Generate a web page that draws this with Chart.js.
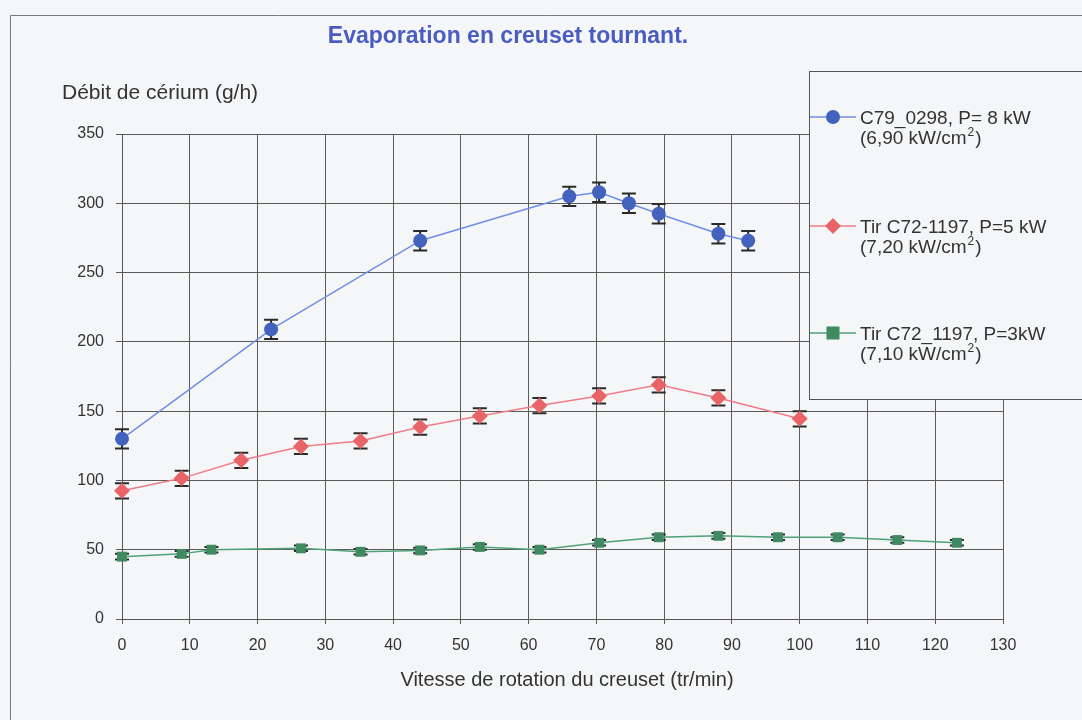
<!DOCTYPE html>
<html><head><meta charset="utf-8">
<script src="https://cdn.jsdelivr.net/npm/chart.js@4.4.1/dist/chart.umd.min.js"></script>
<style>html,body{margin:0;padding:0;background:#f5f6f8;} canvas{display:block}</style>
</head><body>
<canvas id="c" width="1082" height="720"></canvas>
<script>
// ---- data ----
const xTicksMin = 0, xTicksMax = 130, xStep = 10;
const yTicksMin = 0, yTicksMax = 350, yStep = 50;

const blueX = [0, 22, 44, 66, 70.4, 74.8, 79.2, 88, 92.4];
const blueY = [130, 209, 273, 305, 308, 300, 292.5, 278, 273];
const blueErr = [7, 7, 7, 7, 7, 7, 7, 7, 7];

const redX = [0, 8.8, 17.6, 26.4, 35.2, 44, 52.8, 61.6, 70.4, 79.2, 88, 100];
const redY = [92.5, 101.5, 114.5, 124.5, 128.5, 138.5, 146.5, 154, 161, 169, 159.5, 144.5];
const redErr = [5.5, 5.5, 5.5, 5.5, 5.5, 5.5, 5.5, 5.5, 5.5, 5.5, 5.5, 5.5];

const greenX = [0, 8.8, 13.2, 26.4, 35.2, 44, 52.8, 61.6, 70.4, 79.2, 88, 96.8, 105.6, 114.4, 123.2];
const greenY = [45, 47, 50, 51, 48.5, 49.5, 52, 50, 55, 59, 60, 59, 59, 57, 55];
const greenErr = [2, 2, 2, 2, 2, 2, 2, 2, 2, 2, 2, 2, 2, 2, 2];

const seriesLabels = ["C79_0298, P= 8 kW", "Tir C72-1197, P=5 kW", "Tir C72_1197, P=3kW"];
const seriesSub = ["(6,90 kW/cm", "(7,20 kW/cm", "(7,10 kW/cm"];

const titleText = "Evaporation en creuset tournant.";
const yTitle = "Débit de cérium (g/h)";
const xTitle = "Vitesse de rotation du creuset (tr/min)";

const FONT = "'Liberation Sans', Arial, sans-serif";

function pts(xs, ys){ return xs.map((x,i)=>({x:x, y:ys[i]})); }

const errorBars = {
  id: 'errorBars',
  beforeDatasetsDraw(chart){
    const ctx = chart.ctx, xs = chart.scales.x, ys = chart.scales.y;
    ctx.save();
    ctx.strokeStyle = '#2a2a2a';
    ctx.lineWidth = 2;
    chart.data.datasets.forEach(ds => {
      ds.data.forEach((p, j) => {
        const e = ds.errors[j];
        const px = xs.getPixelForValue(p.x);
        const t = ys.getPixelForValue(p.y + e), b = ys.getPixelForValue(p.y - e);
        ctx.beginPath();
        ctx.moveTo(px, t); ctx.lineTo(px, b);
        ctx.moveTo(px - 7, t); ctx.lineTo(px + 7, t);
        ctx.moveTo(px - 7, b); ctx.lineTo(px + 7, b);
        ctx.stroke();
      });
    });
    ctx.restore();
  }
};

function drawMarker(ctx, style, x, y, color){
  ctx.fillStyle = color;
  ctx.beginPath();
  if (style === 'circle') { ctx.arc(x, y, 7, 0, Math.PI*2); }
  else if (style === 'rectRot') { ctx.moveTo(x, y-8); ctx.lineTo(x+8, y); ctx.lineTo(x, y+8); ctx.lineTo(x-8, y); ctx.closePath(); }
  else { ctx.rect(x-6.5, y-6.5, 13, 13); }
  ctx.fill();
}

const decor = {
  id: 'decor',
  afterDraw(chart){
    const ctx = chart.ctx;
    ctx.save();
    // outer frame
    ctx.strokeStyle = '#7a7a7a'; ctx.lineWidth = 1;
    ctx.beginPath(); ctx.moveTo(10.5, 720); ctx.lineTo(10.5, 15.5); ctx.lineTo(1082, 15.5); ctx.stroke();
    // title
    ctx.fillStyle = '#4a5cc0';
    ctx.font = 'bold 23px ' + FONT;
    ctx.textAlign = 'center'; ctx.textBaseline = 'alphabetic';
    ctx.fillText(titleText, 508, 43);
    // y title
    ctx.fillStyle = '#333';
    ctx.font = '21px ' + FONT;
    ctx.textAlign = 'left';
    ctx.fillText(yTitle, 62, 99);
    // x title
    ctx.textAlign = 'center';
    ctx.font = '20px ' + FONT;
    ctx.fillText(xTitle, 567, 686);
    // legend box
    ctx.fillStyle = '#f5f6f8';
    ctx.fillRect(809, 71, 300, 329);
    ctx.strokeStyle = '#555';
    ctx.strokeRect(809.5, 71.5, 300, 328);
    const ys = [117, 226, 333];
    chart.data.datasets.forEach((ds, i) => {
      const y = ys[i];
      ctx.strokeStyle = ds.borderColor; ctx.lineWidth = 1.5;
      ctx.beginPath(); ctx.moveTo(810, y); ctx.lineTo(856, y); ctx.stroke();
      drawMarker(ctx, ds.pointStyle, 833, y, ds.pointBackgroundColor);
      ctx.fillStyle = '#333';
      ctx.font = '19px ' + FONT;
      ctx.textAlign = 'left'; ctx.textBaseline = 'alphabetic';
      ctx.fillText(seriesLabels[i], 860, y + 7);
      const sub = seriesSub[i];
      ctx.fillText(sub, 860, y + 27);
      let w = ctx.measureText(sub).width;
      ctx.font = '12px ' + FONT;
      ctx.fillText('2', 860 + w + 1, y + 19);
      const w2 = ctx.measureText('2').width;
      ctx.font = '19px ' + FONT;
      ctx.fillText(')', 860 + w + w2 + 2, y + 27);
    });
    ctx.restore();
  }
};

const bg = {
  id: 'bg',
  beforeDraw(chart){
    const ctx = chart.ctx;
    ctx.save(); ctx.fillStyle = '#f5f6f8'; ctx.fillRect(0, 0, chart.width, chart.height); ctx.restore();
  }
};

new Chart(document.getElementById('c'), {
  type: 'line',
  data: {
    datasets: [
      { label: seriesLabels[0], data: pts(blueX, blueY), errors: blueErr, clip: false,
        borderColor: '#6f8fe6', borderWidth: 1.5, pointStyle: 'circle', pointRadius: 7,
        pointBackgroundColor: '#4262bd', pointBorderColor: '#4262bd', pointBorderWidth: 0, tension: 0 },
      { label: seriesLabels[1], data: pts(redX, redY), errors: redErr, clip: false,
        borderColor: '#f07c8a', borderWidth: 1.5, pointStyle: 'rectRot', pointRadius: 8,
        pointBackgroundColor: '#e86466', pointBorderColor: '#e86466', pointBorderWidth: 0, tension: 0 },
      { label: seriesLabels[2], data: pts(greenX, greenY), errors: greenErr, clip: false,
        borderColor: '#4fa276', borderWidth: 1.5, pointStyle: 'rect', pointRadius: 7,
        pointBackgroundColor: '#3f8a60', pointBorderColor: '#3f8a60', pointBorderWidth: 0, tension: 0 }
    ]
  },
  options: {
    responsive: false, animation: false, devicePixelRatio: 1,
    layout: { padding: { left: 0, top: 134, right: 79, bottom: 0 } },
    plugins: { legend: { display: false }, title: { display: false }, tooltip: { enabled: false } },
    scales: {
      x: { type: 'linear', min: xTicksMin, max: xTicksMax,
        ticks: { stepSize: xStep, color: '#333', font: { family: FONT, size: 16 }, padding: 12, maxRotation: 0 },
        grid: { color: '#5a5a5a', lineWidth: 1, tickLength: 5 },
        border: { color: '#555', width: 1 },
        afterFit(s){ s.height = 101; } },
      y: { min: yTicksMin, max: yTicksMax,
        ticks: { stepSize: yStep, color: '#333', font: { family: FONT, size: 16 }, padding: 12 },
        grid: { color: '#5a5a5a', lineWidth: 1, tickLength: 6 },
        border: { color: '#555', width: 1 },
        afterFit(s){ s.width = 122; } }
    }
  },
  plugins: [bg, errorBars, decor]
});
</script>
</body></html>
